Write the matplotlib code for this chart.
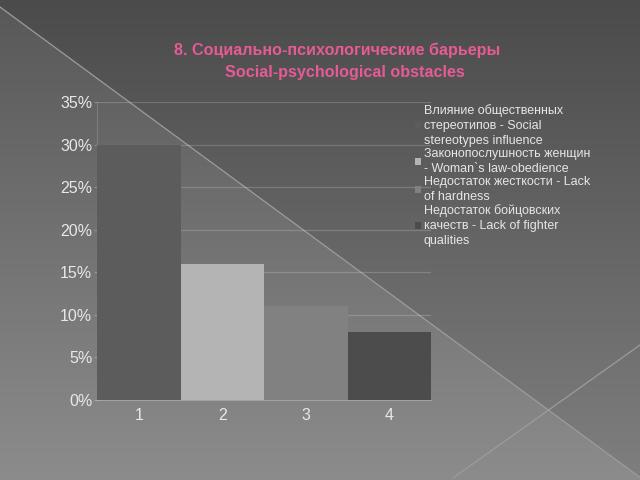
import numpy as np
import matplotlib
matplotlib.use("Agg")
import matplotlib.pyplot as plt
from matplotlib.patches import Patch

plt.rcParams['font.family'] = ['Liberation Sans', 'DejaVu Sans']

categories = ['1', '2', '3', '4']
values = [0.30, 0.16, 0.11, 0.08]
series_labels = [
    'Влияние общественных\nстереотипов - Social\nstereotypes influence',
    'Законопослушность женщин\n- Woman`s law-obedience',
    'Недостаток жесткости - Lack\nof hardness',
    'Недостаток бойцовских\nкачеств - Lack of fighter\nqualities',
]
bar_colors = ['#5c5c5c', '#b4b4b4', '#818181', '#4c4c4c']
yticks = [0, 0.05, 0.10, 0.15, 0.20, 0.25, 0.30, 0.35]
title_ru = '8. Социально-психологические барьеры'
title_en = 'Social-psychological obstacles'

W, H = 640, 480
fig = plt.figure(figsize=(6.4, 4.8), dpi=100)

# background
bg = fig.add_axes([0, 0, 1, 1], zorder=-10)
yy, xx = np.mgrid[0:H, 0:W].astype(float)
base = 0x58 + (0x8c - 0x58) * yy / H
above = yy < 7 + 0.735 * xx
base = np.where(above, base - 13, base)
img = np.dstack([base, base, base]) / 255.0
bg.imshow(img, extent=[0, W, H, 0], aspect='auto', interpolation='bilinear')
bg.plot([0, W], [7, 7 + 0.735 * W], color='#9c9c9c', lw=0.9)
bg.plot([453, 453 + 187 * 1.05], [478, 478 - 133 * 1.05], color='#9c9c9c', lw=0.9)
bg.set_xlim(0, W)
bg.set_ylim(H, 0)
bg.axis('off')

ax = fig.add_axes([97 / W, 1 - 400 / H, (431 - 97) / W, (400 - 102) / H])
ax.patch.set_alpha(0)
x = np.arange(len(categories))
ax.bar(x, values, width=1.0, color=bar_colors, zorder=3)
ax.set_xlim(-0.5, len(categories) - 0.5)
ax.set_ylim(0, 0.35)
ax.set_yticks(yticks)
ax.set_yticklabels([f'{int(round(v * 100))}%' for v in yticks])
ax.set_xticks(x)
ax.set_xticklabels(categories)
ax.yaxis.grid(True, color='white', alpha=0.18, lw=0.9, zorder=1)
ax.set_axisbelow(True)
for s in ['top', 'right']:
    ax.spines[s].set_visible(False)
ax.spines['left'].set_color((1, 1, 1, 0.15))
ax.spines['bottom'].set_color((1, 1, 1, 0.25))
ax.tick_params(axis='y', colors=(1, 1, 1, 0.25), labelcolor='#e8e8e8', labelsize=11.5, length=2, pad=1.5)
ax.tick_params(axis='x', colors=(1, 1, 1, 0.25), labelcolor='#e8e8e8', labelsize=11.5, length=0, pad=6)

handles = [Patch(facecolor=c, edgecolor='none') for c in bar_colors]
leg = fig.legend(handles, series_labels, loc='upper left',
                 bbox_to_anchor=(415 / W, 1 - 104 / H), frameon=False,
                 fontsize=9, handlelength=0.5, handleheight=0.5,
                 handletextpad=0.2, labelspacing=0.05, borderpad=0,
                 borderaxespad=0)
for t in leg.get_texts():
    t.set_color('#e6e6e6')
    t.set_linespacing(1.36)

fig.text(337 / W, 1 - 50 / H, title_ru, ha='center', va='center',
         color='#e65a96', fontsize=11.6, fontweight='bold')
fig.text(345 / W, 1 - 73 / H, title_en, ha='center', va='center',
         color='#e65a96', fontsize=11.6, fontweight='bold')

fig.savefig('out.png', dpi=100)
